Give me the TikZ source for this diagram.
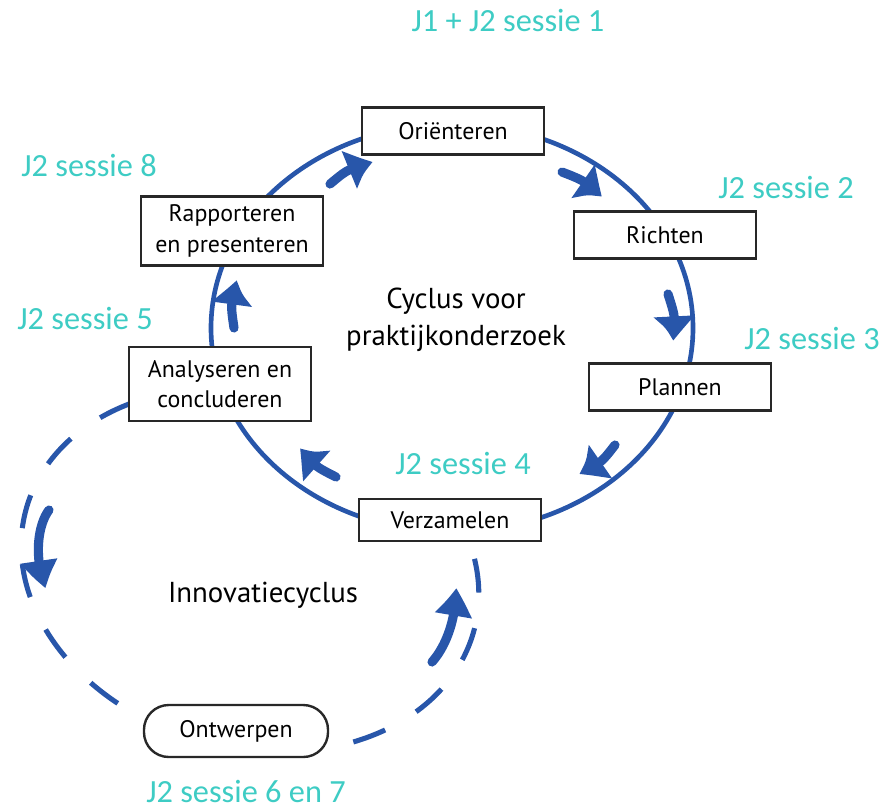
\documentclass[tikz,border=0pt]{standalone}
\usepackage{fontspec}
\setmainfont{PT Sans}
\newfontfamily\sessionfont{Carlito}
\usepackage{tikz}
\usetikzlibrary{arrows.meta, bending}
\definecolor{ringblue}{RGB}{40,86,170}
\definecolor{sessteal}{RGB}{62,204,196}
\definecolor{boxline}{RGB}{40,40,40}

\begin{document}
\begin{tikzpicture}[
            x=0.025cm, y=-0.025cm,
            stepbox/.style={rectangle, draw=boxline, line width=1.7pt, fill=white, minimum width=4.55cm, minimum height=1.17cm, align=center, inner sep=2pt, font=\fontsize{17}{21.5}\selectfont},
            roundbox/.style={stepbox, rounded corners=0.62cm, minimum width=4.6cm, minimum height=1.3cm},
            sessionlabel/.style={text=sessteal, inner sep=1pt, font=\sessionfont\fontsize{23}{27}\selectfont},
            cyclelabel/.style={align=center, font=\fontsize{20.5}{26}\selectfont},
            ring/.style={draw=ringblue, line width=3.3pt},
            dashring/.style={draw=ringblue, line width=3.6pt, dash pattern=on 24.2pt off 25.6pt, dash phase=42pt},
            flowarrow/.style={draw=ringblue, line width=6.5pt, line cap=round, -{Triangle[length=20pt, width=25pt, bend]}},
            ]
            \useasboundingbox (0,0) rectangle (894,811);

            % innovatiecyclus (dashed part) and onderzoekscyclus
            \begin{scope}[shift={(250,570)}, rotate=-15]
                \draw[dashring] (230:232 and 178) arc[start angle=230, end angle=-35, x radius=232, y radius=178];
            \end{scope}
            \draw[ring] (452,328) ellipse [x radius=241, y radius=204];

            % arrows
            \coordinate (a1) at (330,184); \coordinate (b1) at (373,162);
            \coordinate (a2) at (562,172); \coordinate (b2) at (602,197);
            \coordinate (a3) at (668,294); \coordinate (b3) at (673,341);
            \coordinate (a4) at (615,445); \coordinate (b4) at (579,474);
            \coordinate (a5) at (336,477); \coordinate (b5) at (300,448);
            \coordinate (a6) at (234,328); \coordinate (b6) at (237,280);
            \coordinate (d1) at (49,510);  \coordinate (e1) at (46,588);
            \coordinate (d2) at (432,662); \coordinate (e2) at (456,588);

            \draw[flowarrow] (a1) .. controls (348,169) .. (b1);
            \draw[flowarrow] (a2) .. controls (585,181) .. (b2);
            \draw[flowarrow] (a3) .. controls (675.5,317.5) .. (b3);
            \draw[flowarrow] (a4) .. controls (601,463) .. (b4);
            \draw[flowarrow] (a5) .. controls (314.5,466) .. (b5);
            \draw[flowarrow] (a6) .. controls (230.5,304) .. (b6);
            \draw[flowarrow] (d1) .. controls (37,526) and (34,560) .. (e1);
            \draw[flowarrow] (d2) .. controls (446,646) and (456,620) .. (e2);

            % steps
            \node[stepbox]                        (orient)  at (453,131) {Oriënteren};
            \node[stepbox]                        (richten) at (665,235) {Richten};
            \node[stepbox]                        (plannen) at (680,387) {Plannen};
            \node[stepbox, minimum height=1.05cm] (verzam)  at (450,520) {Verzamelen};
            \node[stepbox, minimum height=1.85cm] (analys)  at (220,384) {Analyseren en\\concluderen};
            \node[stepbox, minimum height=1.73cm] (rapport) at (232,231) {Rapporteren\\en presenteren};
            \node[roundbox]                       (ontwerp) at (236,731) {Ontwerpen};

            \node[cyclelabel] (cyclus) at (456,320) {Cyclus voor\\praktijkonderzoek};
            \node[cyclelabel] (innov)  at (263,595) {Innovatiecyclus};

            % sessions
            \node[sessionlabel] (s1)  at (508,20)  {J1 + J2 sessie 1};
            \node[sessionlabel] (s2)  at (786,187) {J2 sessie 2};
            \node[sessionlabel] (s3)  at (812,338) {J2 sessie 3};
            \node[sessionlabel] (s4)  at (463,463) {J2 sessie 4};
            \node[sessionlabel] (s5)  at (85,318)  {J2 sessie 5};
            \node[sessionlabel] (s67) at (246,791) {J2 sessie 6 en 7};
            \node[sessionlabel] (s8)  at (89,165)  {J2 sessie 8};
\end{tikzpicture}
\end{document}
